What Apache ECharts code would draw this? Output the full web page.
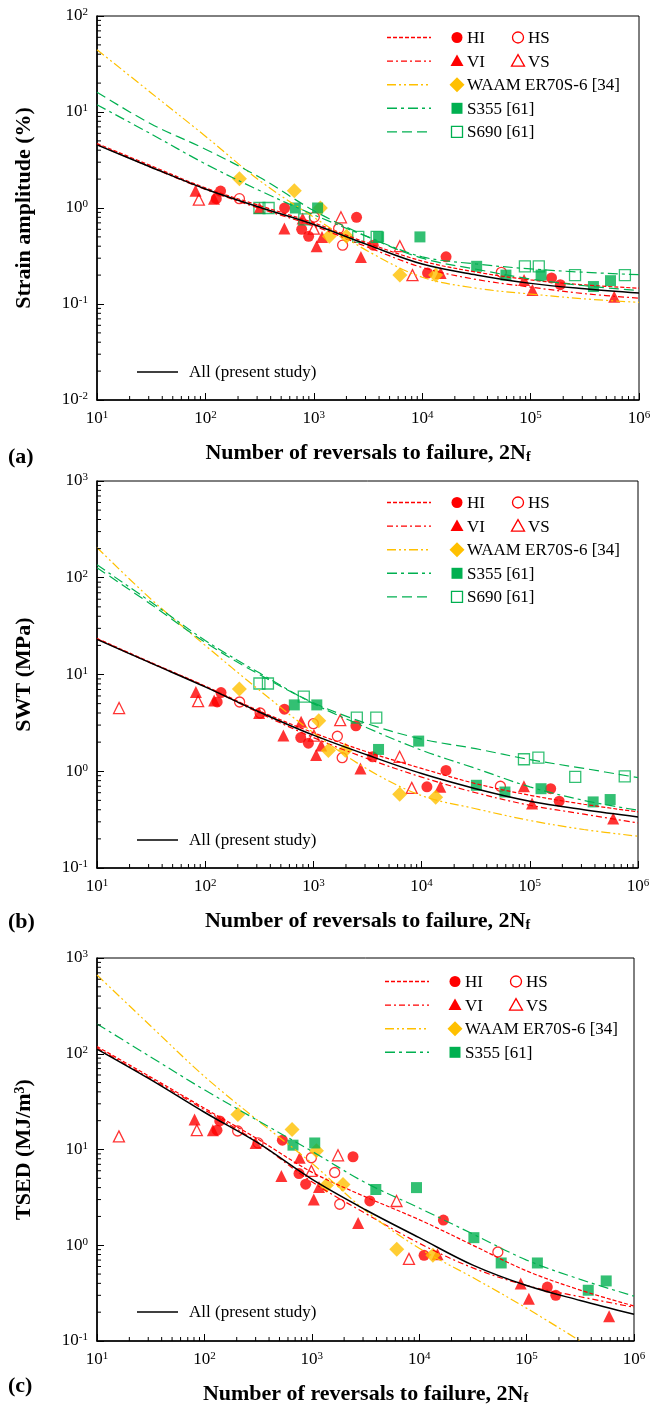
<!DOCTYPE html>
<html>
<head>
<meta charset="utf-8">
<script src="https://cdn.jsdelivr.net/npm/echarts@6/dist/echarts.min.js"></script>
<style>
  html, body { margin: 0; padding: 0; background: #fff; }
  #container { width: 657px; height: 1406px; }
</style>
</head>
<body>
<div id="container"></div>
<script>
var dom = document.getElementById('container');
var myChart = echarts.init(dom, null, { renderer: 'canvas' });

const FONT = 'Liberation Serif, Times New Roman, serif';
const RED = '#FF0000';
const GOLD = '#FFC000';
const GREEN = '#00B050';

const fitN = [10, 31.6, 100, 316, 1000, 3160, 10000, 31600, 100000, 316000, 1000000];

// ---- (a) strain amplitude (%)
const strainHI = [[126, 1.25], [138, 1.5], [538, 1.0], [773, 0.6], [896, 0.507], [2480, 0.8], [3530, 0.41], [11200, 0.21], [16600, 0.31], [156000, 0.187], [188000, 0.159]];
const strainHS = [[206, 1.25], [1011, 0.805], [1695, 0.61], [1845, 0.41], [53700, 0.214]];
const strainVI = [[81, 1.51], [120, 1.25], [315, 1.0], [535, 0.61], [789, 0.776], [1062, 0.40], [1190, 0.50], [2720, 0.309], [14800, 0.21], [87000, 0.178], [104000, 0.14], [590000, 0.119]];
const strainVS = [[87, 1.22], [1000, 0.61], [1780, 0.8], [6220, 0.40], [8130, 0.20]];
const strainWAAM = [[206, 2.02], [661, 1.51], [1150, 1.0], [1390, 0.507], [2000, 0.507], [6220, 0.20], [13300, 0.20]];
const strainS355 = [[676, 1.0], [1084, 1.0], [3960, 0.5], [9530, 0.5], [31800, 0.247], [59200, 0.2], [125000, 0.2], [380000, 0.152], [546000, 0.175]];
const strainS690 = [[315, 1.0], [383, 1.0], [817, 0.76], [2570, 0.5], [3800, 0.5], [88600, 0.247], [119000, 0.247], [257000, 0.2], [741000, 0.2]];
const strainFitAll = [4.55, 2.66, 1.58, 1.02, 0.673, 0.413, 0.261, 0.201, 0.164, 0.144, 0.130];
const strainFitHI = [4.7, 2.75, 1.62, 1.06, 0.70, 0.43, 0.28, 0.215, 0.178, 0.158, 0.146];
const strainFitVI = [4.6, 2.65, 1.56, 0.99, 0.65, 0.39, 0.24, 0.18, 0.15, 0.128, 0.115];
const strainFitWAAM = [44.6, 15.8, 5.6, 1.93, 0.80, 0.355, 0.19, 0.146, 0.127, 0.113, 0.104];
const strainFitS355 = [11.9, 5.9, 2.88, 1.52, 0.85, 0.50, 0.31, 0.261, 0.232, 0.214, 0.202];
const strainFitS690 = [16.1, 7.5, 4.1, 2.09, 0.94, 0.50, 0.30, 0.23, 0.182, 0.155, 0.138];

// ---- (b) SWT (MPa)
const swtHI = [[129, 5.2], [140, 6.5], [540, 4.38], [764, 2.23], [899, 1.95], [2470, 2.95], [3520, 1.41], [11200, 0.69], [16800, 1.02], [156000, 0.66], [187000, 0.49]];
const swtHS = [[208, 5.2], [322, 4.0], [1000, 3.1], [1665, 2.3], [1845, 1.38], [53500, 0.70]];
const swtVI = [[82, 6.6], [121, 5.4], [315, 4.0], [528, 2.34], [770, 3.24], [1060, 1.47], [1180, 1.85], [2720, 1.07], [14900, 0.69], [88300, 0.70], [105000, 0.464], [590000, 0.324]];
const swtVS = [[16, 4.5], [86, 5.3], [1012, 2.33], [1770, 3.37], [6270, 1.41], [8110, 0.673]];
const swtWAAM = [[207, 7.1], [1120, 3.33], [1375, 1.64], [1970, 1.65], [6270, 0.578], [13500, 0.54]];
const swtS355 = [[666, 4.85], [1075, 4.85], [4000, 1.68], [9400, 2.05], [32100, 0.716], [58900, 0.61], [127000, 0.66], [385000, 0.482], [553000, 0.51]];
const swtS690 = [[317, 8.07], [380, 8.07], [815, 5.9], [2520, 3.58], [3810, 3.58], [88300, 1.33], [120000, 1.38], [263000, 0.873], [754000, 0.887]];
const swtFitAll = [23.1, 13.1, 7.45, 4.1, 2.36, 1.47, 0.946, 0.66, 0.49, 0.40, 0.337];
const swtFitHI = [23.6, 13.3, 7.6, 4.2, 2.5, 1.58, 1.07, 0.745, 0.565, 0.456, 0.38];
const swtFitVI = [23.3, 13.1, 7.5, 4.0, 2.23, 1.35, 0.87, 0.60, 0.445, 0.36, 0.292];
const swtFitWAAM = [205, 60, 20, 6.9, 2.5, 1.05, 0.56, 0.41, 0.31, 0.25, 0.213];
const swtFitS355 = [136, 56, 22.5, 10.4, 5.0, 2.8, 1.65, 1.07, 0.69, 0.50, 0.395];
const swtFitS690 = [127, 53, 21.5, 10.0, 5.1, 3.1, 2.15, 1.71, 1.32, 1.07, 0.86];

// ---- (c) TSED (MJ/m3)
const tsedHI = [[131, 15.9], [139, 19.9], [532, 12.5], [760, 5.6], [877, 4.34], [2420, 8.4], [3470, 2.9], [11100, 0.785], [16800, 1.83], [156000, 0.366], [187000, 0.30]];
const tsedHS = [[204, 15.6], [316, 11.7], [991, 8.2], [1633, 5.75], [1820, 2.68], [54000, 0.85]];
const tsedVI = [[81, 20.6], [120, 15.9], [300, 11.7], [521, 5.3], [771, 8.2], [1043, 3.0], [1167, 4.06], [2700, 1.71], [14800, 0.805], [88100, 0.398], [105000, 0.277], [587000, 0.181]];
const tsedVS = [[16, 13.7], [85, 15.9], [991, 5.97], [1754, 8.7], [6150, 2.9], [8030, 0.72]];
const tsedWAAM = [[205, 23.2], [655, 16.2], [1104, 9.7], [1368, 4.23], [1953, 4.3], [6180, 0.91], [13400, 0.785]];
const tsedS355 = [[668, 11.1], [1065, 11.7], [3945, 3.82], [9440, 4.0], [32300, 1.2], [58000, 0.653], [126000, 0.653], [375000, 0.339], [551000, 0.424]];
const tsedFitAll = [112, 53.7, 24.5, 11.7, 4.9, 2.35, 1.2, 0.62, 0.38, 0.265, 0.19];
const tsedFitHI = [119, 57, 27, 12.8, 5.8, 3.2, 1.85, 1.0, 0.54, 0.34, 0.232];
const tsedFitVI = [115, 55, 26, 11.8, 4.6, 2.15, 1.05, 0.58, 0.38, 0.29, 0.225];
const tsedFitWAAM = [665, 195, 58, 20, 7.2, 2.3, 0.93, 0.46, 0.22, 0.1];
const tsedFitS355 = [205, 92.5, 42, 20, 9.6, 4.5, 2.45, 1.31, 0.70, 0.44, 0.294];

// axis ranges (log10 exponents)
const xRange = [1, 6];
const yRanges = [[-2, 2], [-1, 3], [-1, 3]];
const yNames = ['Strain amplitude (%)', 'SWT (MPa)', 'TSED (MJ/m{sup|3})'];
const panelTags = ['(a)', '(b)', '(c)'];

// layout
const grids = [
  { left: 97, top: 16, width: 542, height: 384 },
  { left: 97, top: 481, width: 541, height: 387 },
  { left: 97, top: 958, width: 537, height: 384 }
];

const DASH = {
  HI: [4, 2],
  VI: [6, 3, 2, 3],
  WAAM: [9, 3, 2, 3, 2, 3],
  S355: [10, 4, 3, 4],
  S690: [10, 5]
};

const tickRich = {
  b: { fontFamily: FONT, fontSize: 17, color: '#000', lineHeight: 18 },
  s: { fontFamily: FONT, fontSize: 11, color: '#000', lineHeight: 11, verticalAlign: 'top' }
};
function pow10(v) {
  const e = Math.round(Math.log(v) / Math.LN10);
  return '{b|10}{s|' + e + '}';
}

function fit(vals, color, dash, width, gi) {
  return {
    type: 'line', xAxisIndex: gi, yAxisIndex: gi,
    data: vals.map((v, i) => [fitN[i], v]),
    symbol: 'none', smooth: 0.35, silent: true, z: 4,
    lineStyle: { color: color, width: width, type: dash }
  };
}
function dots(data, shape, color, open, size, gi) {
  return {
    type: 'scatter', xAxisIndex: gi, yAxisIndex: gi, data: data,
    symbol: shape, symbolSize: size, silent: true, z: 3,
    itemStyle: open
      ? { color: 'rgba(255,255,255,0)', borderColor: color, borderWidth: 1.3 }
      : { color: color }
  };
}
function minors(lo, hi) {
  const out = [];
  for (let e = lo; e < hi; e++) {
    for (let m = 2; m <= 9; m++) out.push(m * Math.pow(10, e));
  }
  return out;
}
function minorTicks(gi, vals, alongX, fixed, len) {
  return {
    type: 'custom', xAxisIndex: gi, yAxisIndex: gi, silent: true, z: 6, clip: false,
    data: vals.map(v => alongX ? [v, fixed] : [fixed, v]),
    renderItem: function (params, api) {
      const p = api.coord([api.value(0), api.value(1)]);
      return {
        type: 'line',
        shape: alongX
          ? { x1: p[0], y1: p[1], x2: p[0], y2: p[1] - len }
          : { x1: p[0], y1: p[1], x2: p[0] + len, y2: p[1] },
        style: { stroke: '#000', lineWidth: 1 }
      };
    }
  };
}

// legend drawn with graphic elements
function legendMarker(shape, cx, cy, color, open) {
  const st = open
    ? { fill: 'rgba(255,255,255,0)', stroke: color, lineWidth: 1.3 }
    : { fill: color };
  if (shape === 'circle') return { type: 'circle', shape: { cx: cx, cy: cy, r: 5.5 }, style: st };
  if (shape === 'rect') return { type: 'rect', shape: { x: cx - 5.5, y: cy - 5.5, width: 11, height: 11 }, style: st };
  if (shape === 'triangle') return { type: 'polygon', shape: { points: [[cx, cy - 6.5], [cx + 6.5, cy + 5], [cx - 6.5, cy + 5]] }, style: st };
  return { type: 'polygon', shape: { points: [[cx, cy - 7.5], [cx + 7.5, cy], [cx, cy + 7.5], [cx - 7.5, cy]] }, style: st };
}
function legendText(txt, x, y) {
  return { type: 'text', x: x, y: y, style: { text: txt, fontFamily: FONT, fontSize: 17, fill: '#000', verticalAlign: 'middle' } };
}

const legendRows = [
  { color: RED, dash: DASH.HI, shape: 'circle', label: 'HI', label2: 'HS' },
  { color: RED, dash: DASH.VI, shape: 'triangle', label: 'VI', label2: 'VS' },
  { color: GOLD, dash: DASH.WAAM, shape: 'diamond', label: 'WAAM ER70S-6 [34]' },
  { color: GREEN, dash: DASH.S355, shape: 'rect', label: 'S355 [61]' },
  { color: GREEN, dash: DASH.S690, shape: 'rect', label: 'S690 [61]', open: true }
];

function panelLegend(gi) {
  const rows = legendRows.slice(0, gi === 2 ? 4 : 5);
  const y0 = [37.5, 502.5, 981.5][gi];
  const allY = [372, 840, 1312][gi];
  const x0 = gi === 2 ? 385 : 387;
  const els = [];
  rows.forEach(function (r, i) {
    const y = y0 + i * 23.6;
    els.push({ type: 'line', shape: { x1: x0, y1: y, x2: x0 + 44, y2: y }, style: { stroke: r.color, lineWidth: 1.4, lineDash: r.dash } });
    els.push(legendMarker(r.shape, x0 + 70, y, r.color, !!r.open));
    els.push(legendText(r.label, x0 + 80, y + 1));
    if (r.label2) {
      els.push(legendMarker(r.shape, x0 + 131, y, r.color, true));
      els.push(legendText(r.label2, x0 + 141, y + 1));
    }
  });
  els.push({ type: 'line', shape: { x1: 137, y1: allY, x2: 178, y2: allY }, style: { stroke: '#000', lineWidth: 1.5 } });
  els.push(legendText('All (present study)', 189, allY + 1));
  return els;
}

const panels = [
  { pts: [strainHI, strainHS, strainVI, strainVS, strainWAAM, strainS355, strainS690],
    fits: [strainFitHI, strainFitVI, strainFitWAAM, strainFitS355, strainFitS690], all: strainFitAll },
  { pts: [swtHI, swtHS, swtVI, swtVS, swtWAAM, swtS355, swtS690],
    fits: [swtFitHI, swtFitVI, swtFitWAAM, swtFitS355, swtFitS690], all: swtFitAll },
  { pts: [tsedHI, tsedHS, tsedVI, tsedVS, tsedWAAM, tsedS355],
    fits: [tsedFitHI, tsedFitVI, tsedFitWAAM, tsedFitS355], all: tsedFitAll }
];

const ptStyle = [
  ['circle', RED, false, 11], ['circle', RED, true, 10],
  ['triangle', RED, false, 12], ['triangle', RED, true, 11],
  ['diamond', GOLD, false, 15], ['rect', GREEN, false, 11], ['rect', GREEN, true, 11]
];
const fitStyle = [[RED, DASH.HI], [RED, DASH.VI], [GOLD, DASH.WAAM], [GREEN, DASH.S355], [GREEN, DASH.S690]];

const series = [];
const xAxes = [];
const yAxes = [];
let graphics = [];

panels.forEach(function (p, gi) {
  const yr = yRanges[gi];
  xAxes.push({
    type: 'log', logBase: 10, gridIndex: gi,
    min: Math.pow(10, xRange[0]), max: Math.pow(10, xRange[1]), splitNumber: 5,
    splitLine: { show: false },
    axisLine: { show: true, onZero: false, lineStyle: { color: '#000', width: 1.6 } },
    axisTick: { show: true, inside: true, length: 7, lineStyle: { color: '#000' } },
    axisLabel: { formatter: pow10, rich: tickRich, margin: 10, showMinLabel: true, showMaxLabel: true },
    name: 'Number of reversals to failure, 2N{sub|f}',
    nameLocation: 'middle', nameGap: 42,
    nameTextStyle: {
      fontFamily: FONT, fontSize: 22, fontWeight: 'bold', color: '#000',
      rich: { sub: { fontFamily: FONT, fontSize: 14, fontWeight: 'bold', color: '#000', verticalAlign: 'bottom', lineHeight: 14 } }
    }
  });
  yAxes.push({
    type: 'log', logBase: 10, gridIndex: gi,
    min: Math.pow(10, yr[0]), max: Math.pow(10, yr[1]), splitNumber: yr[1] - yr[0],
    splitLine: { show: false },
    axisLine: { show: true, onZero: false, lineStyle: { color: '#000', width: 1.6 } },
    axisTick: { show: true, inside: true, length: 7, lineStyle: { color: '#000' } },
    axisLabel: { formatter: pow10, rich: tickRich, margin: 9, showMinLabel: true, showMaxLabel: true },
    name: yNames[gi], nameLocation: 'middle', nameGap: 62, nameRotate: 90,
    nameTextStyle: {
      fontFamily: FONT, fontSize: 22, fontWeight: 'bold', color: '#000',
      rich: { sup: { fontFamily: FONT, fontSize: 14, fontWeight: 'bold', color: '#000', verticalAlign: 'top', lineHeight: 14 } }
    }
  });

  p.pts.forEach(function (d, k) {
    const s = ptStyle[k];
    series.push(dots(d, s[0], s[1], s[2], s[3], gi));
  });
  p.fits.forEach(function (f, k) {
    series.push(fit(f, fitStyle[k][0], fitStyle[k][1], 1.2, gi));
  });
  series.push(fit(p.all, '#000', 'solid', 1.5, gi));

  series.push(minorTicks(gi, minors(xRange[0], xRange[1]), true, Math.pow(10, yr[0]), 4));
  series.push(minorTicks(gi, minors(yr[0], yr[1]), false, Math.pow(10, xRange[0]), 4));

  graphics = graphics.concat(panelLegend(gi));
  graphics.push({
    type: 'text', x: 8, y: [457, 922, 1386][gi],
    style: { text: panelTags[gi], fontFamily: FONT, fontSize: 22, fontWeight: 'bold', fill: '#000', verticalAlign: 'middle' }
  });
});

var option = {
  animation: false,
  backgroundColor: '#fff',
  grid: grids.map(g => Object.assign({ show: true, borderColor: '#000', borderWidth: 1, containLabel: false }, g)),
  xAxis: xAxes,
  yAxis: yAxes,
  series: series,
  graphic: graphics
};

myChart.setOption(option);
window.addEventListener('resize', myChart.resize);
</script>
</body>
</html>
